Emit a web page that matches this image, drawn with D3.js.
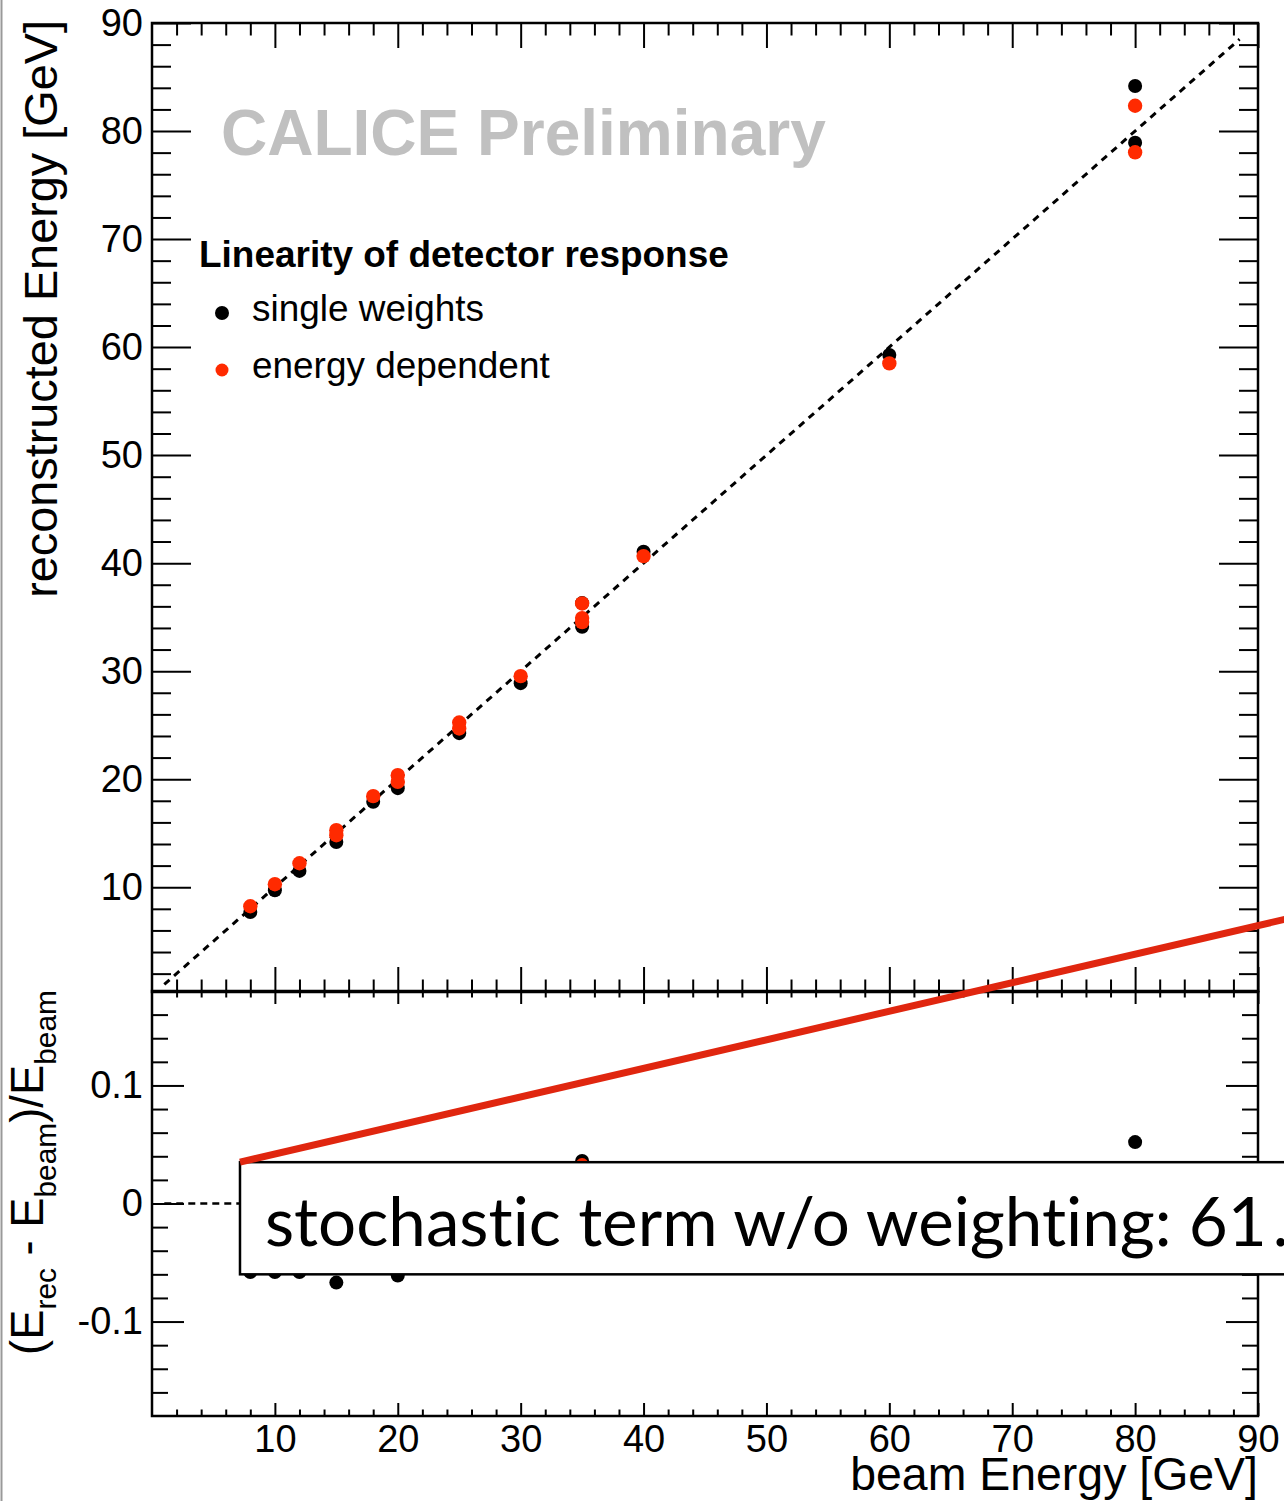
<!DOCTYPE html>
<html>
<head>
<meta charset="utf-8">
<script src="https://cdn.jsdelivr.net/npm/d3@7/dist/d3.min.js"></script>
<style>
    body { margin: 0; background: #fff; }
    svg { display: block; }
</style>
</head>
<body>
<div id="chart"></div>
<script>
// beam energy [GeV] for each run
const singleBeam = [8, 10, 12, 15, 18, 20, 25, 30, 35, 35, 40, 60, 80, 80];
const singleRec  = [7.71, 9.72, 11.51, 14.19, 17.90, 19.17, 24.26, 28.89, 36.3, 34.10, 41.05, 59.26, 84.17, 78.92];
const singleRes  = [-0.058, -0.058, -0.058, -0.067, -0.045, -0.061, -0.04, -0.037, 0.036, -0.026, 0.026, -0.012, 0.052, -0.014];

const edepBeam = [8, 10, 12, 15, 15, 18, 20, 20, 25, 25, 30, 35, 35, 35, 40, 60, 80, 80];
const edepRec  = [8.24, 10.28, 12.22, 15.28, 14.81, 18.43, 20.37, 19.75, 25.25, 24.69, 29.54, 36.27, 34.91, 34.54, 40.65, 58.49, 82.34, 78.03];
const edepRes  = [0.027, 0.028, 0.018, 0.019, -0.013, 0.024, 0.018, -0.012, 0.01, -0.012, -0.015, 0.033, -0.003, -0.013, 0.016, -0.025, 0.029, -0.025];

// reference lines (E_rec = E_beam, residual = 0)
const refX = [1, 88.5];
const refY = [1, 88.5];
const refRes = [0, 0];

// tick labels
const xTicks = [10, 20, 30, 40, 50, 60, 70, 80, 90];
const yTicksTop = [10, 20, 30, 40, 50, 60, 70, 80, 90];
const yTicksRes = [-0.1, 0, 0.1];

// annotation box and pointer line (in residual panel units)
const boxX = [7.16, 96];
const boxY = [0.035, -0.06];
const pointerX = [7.16, 92.5];
const pointerY = [0.035, 0.2415];

const legendLabels = ['single weights', 'energy dependent'];
const annotationText = 'stochastic term w/o weighting: 61';

const RED = '#ff2a00';
const FONT = '"Liberation Sans", Arial, Helvetica, sans-serif';

class LinearityChart {
    constructor(_config) {
        this.config = {
            parentElement: _config.parentElement,
            containerWidth: _config.containerWidth || 1284,
            containerHeight: _config.containerHeight || 1501
        }
        this.InitVis();
    }

    InitVis() {
        let vis = this;

        vis.svg = d3.select(vis.config.parentElement).append('svg')
            .attr('width', vis.config.containerWidth)
            .attr('height', vis.config.containerHeight)
            .style('font-family', FONT);

        vis.x = d3.scaleLinear().domain([0, 90]).range([152, 1258]);
        vis.yTop = d3.scaleLinear().domain([0.3, 90]).range([992, 23]);
        vis.yRes = d3.scaleLinear().domain([-0.18, 0.18]).range([1416, 991]);

        vis.RenderVis();
    }

    DrawTicks(g, axisFn, scale, values, len, withLabels) {
        let axis = axisFn(scale)
            .tickValues(values)
            .tickSizeInner(-len)
            .tickSizeOuter(0)
            .tickPadding(9)
            .tickFormat(withLabels ? (d => String(d)) : '');
        g.call(axis);
        g.select('.domain').remove();
        g.attr('font-family', FONT).attr('font-size', 38);
        g.selectAll('line').attr('stroke', '#000').attr('stroke-width', 2);
        g.selectAll('text').attr('fill', '#000');
    }

    FitText(sel, width) {
        const w = sel.node().getComputedTextLength();
        const fs = parseFloat(sel.attr('font-size'));
        sel.attr('font-size', fs * width / w);
        return fs * width / w;
    }

    RenderVis() {
        let vis = this;
        const x0 = vis.x.range()[0], x1 = vis.x.range()[1];

        // gray page border on the left
        vis.svg.append('line')
            .attr('x1', 1.5).attr('x2', 1.5).attr('y1', 0).attr('y2', vis.config.containerHeight)
            .attr('stroke', '#999').attr('stroke-width', 2);

        const xMinor = d3.range(2, 90, 2).filter(v => v % 10 !== 0);
        const yMinorTop = d3.range(2, 90, 2).filter(v => v % 10 !== 0);
        const yMinorRes = d3.range(-8, 9).filter(i => i % 5 !== 0).map(i => i * 0.02);

        // ---- top panel ticks
        const top = vis.svg.append('g');
        const tTop = vis.yTop.range()[1], tBot = vis.yTop.range()[0];
        vis.DrawTicks(top.append('g').attr('transform', `translate(${x0},0)`), d3.axisLeft, vis.yTop, yTicksTop, 39, true);
        vis.DrawTicks(top.append('g').attr('transform', `translate(${x0},0)`), d3.axisLeft, vis.yTop, yMinorTop, 19, false);
        vis.DrawTicks(top.append('g').attr('transform', `translate(${x1},0)`), d3.axisRight, vis.yTop, yTicksTop, 39, false);
        vis.DrawTicks(top.append('g').attr('transform', `translate(${x1},0)`), d3.axisRight, vis.yTop, yMinorTop, 19, false);
        vis.DrawTicks(top.append('g').attr('transform', `translate(0,${tTop})`), d3.axisTop, vis.x, xTicks, 25, false);
        vis.DrawTicks(top.append('g').attr('transform', `translate(0,${tTop})`), d3.axisTop, vis.x, xMinor, 12.5, false);
        vis.DrawTicks(top.append('g').attr('transform', `translate(0,${tBot})`), d3.axisBottom, vis.x, xTicks, 25, false);
        vis.DrawTicks(top.append('g').attr('transform', `translate(0,${tBot})`), d3.axisBottom, vis.x, xMinor, 12.5, false);
        top.append('rect')
            .attr('x', x0).attr('y', tTop).attr('width', x1 - x0).attr('height', tBot - tTop)
            .attr('fill', 'none').attr('stroke', '#000').attr('stroke-width', 2.5);

        // ---- residual panel ticks
        const bot = vis.svg.append('g');
        const rTop = vis.yRes.range()[1], rBot = vis.yRes.range()[0];
        vis.DrawTicks(bot.append('g').attr('transform', `translate(${x0},0)`), d3.axisLeft, vis.yRes, yTicksRes, 32, true);
        vis.DrawTicks(bot.append('g').attr('transform', `translate(${x0},0)`), d3.axisLeft, vis.yRes, yMinorRes, 16, false);
        vis.DrawTicks(bot.append('g').attr('transform', `translate(${x1},0)`), d3.axisRight, vis.yRes, yTicksRes, 32, false);
        vis.DrawTicks(bot.append('g').attr('transform', `translate(${x1},0)`), d3.axisRight, vis.yRes, yMinorRes, 16, false);
        vis.DrawTicks(bot.append('g').attr('transform', `translate(0,${rTop})`), d3.axisTop, vis.x, xTicks, 13, false);
        vis.DrawTicks(bot.append('g').attr('transform', `translate(0,${rTop})`), d3.axisTop, vis.x, xMinor, 6.5, false);
        vis.DrawTicks(bot.append('g').attr('transform', `translate(0,${rBot})`), d3.axisBottom, vis.x, xTicks, 13, true);
        vis.DrawTicks(bot.append('g').attr('transform', `translate(0,${rBot})`), d3.axisBottom, vis.x, xMinor, 6.5, false);
        bot.append('rect')
            .attr('x', x0).attr('y', rTop).attr('width', x1 - x0).attr('height', rBot - rTop)
            .attr('fill', 'none').attr('stroke', '#000').attr('stroke-width', 2.5);

        // ---- reference lines
        vis.svg.append('path')
            .attr('d', d3.line().x(d => vis.x(d[0])).y(d => vis.yTop(d[1]))(d3.zip(refX, refY)))
            .attr('stroke', '#000').attr('stroke-width', 3).attr('stroke-dasharray', '7,6').attr('fill', 'none');
        vis.svg.append('path')
            .attr('d', d3.line().x(d => vis.x(d[0])).y(d => vis.yRes(d[1]))(d3.zip(refX, refRes)))
            .attr('stroke', '#000').attr('stroke-width', 2.5).attr('stroke-dasharray', '7,5').attr('fill', 'none');

        // ---- points, top panel
        vis.svg.append('g').selectAll('circle')
            .data(d3.zip(singleBeam, singleRec)).join('circle')
            .attr('cx', d => vis.x(d[0])).attr('cy', d => vis.yTop(d[1])).attr('r', 7).attr('fill', '#000');
        vis.svg.append('g').selectAll('circle')
            .data(d3.zip(edepBeam, edepRec)).join('circle')
            .attr('cx', d => vis.x(d[0])).attr('cy', d => vis.yTop(d[1])).attr('r', 7.2).attr('fill', RED);

        // ---- points, residual panel
        vis.svg.append('g').selectAll('circle')
            .data(d3.zip(singleBeam, singleRes)).join('circle')
            .attr('cx', d => vis.x(d[0])).attr('cy', d => vis.yRes(d[1])).attr('r', 7).attr('fill', '#000');
        vis.svg.append('g').selectAll('circle')
            .data(d3.zip(edepBeam, edepRes)).join('circle')
            .attr('cx', d => vis.x(d[0])).attr('cy', d => vis.yRes(d[1])).attr('r', 6.5).attr('fill', RED);

        // ---- axis titles
        const yt = vis.svg.append('text')
            .attr('transform', 'translate(57,20) rotate(-90)')
            .attr('text-anchor', 'end').attr('font-size', 40)
            .text('reconstructed Energy [GeV]');
        vis.FitText(yt, 578);

        const rt = vis.svg.append('text')
            .attr('transform', 'translate(43,990) rotate(-90)')
            .attr('text-anchor', 'end').attr('font-size', 42);
        rt.append('tspan').text('(E');
        rt.append('tspan').attr('font-size', '0.66em').attr('dy', '0.45em').text('rec');
        rt.append('tspan').attr('dy', '-0.3em').text(' - E');
        rt.append('tspan').attr('font-size', '0.66em').attr('dy', '0.45em').text('beam');
        rt.append('tspan').attr('dy', '-0.3em').text(')/E');
        rt.append('tspan').attr('font-size', '0.66em').attr('dy', '0.45em').text('beam');
        vis.FitText(rt, 365);

        const xt = vis.svg.append('text')
            .attr('x', x1).attr('y', 1490)
            .attr('text-anchor', 'end').attr('font-size', 42)
            .text('beam Energy [GeV]');
        vis.FitText(xt, 408);

        // ---- watermark and legend
        const wm = vis.svg.append('text')
            .attr('x', 221).attr('y', 155)
            .attr('font-size', 64).attr('font-weight', 'bold').attr('fill', '#c0c0c0')
            .text('CALICE Preliminary');
        vis.FitText(wm, 605);

        const lt = vis.svg.append('text')
            .attr('x', 199).attr('y', 267)
            .attr('font-size', 37).attr('font-weight', 'bold')
            .text('Linearity of detector response');
        vis.FitText(lt, 530);

        const legend = vis.svg.append('g').selectAll('g')
            .data(legendLabels).join('g')
            .attr('transform', (d, i) => `translate(0,${313 + i * 57})`);
        legend.append('circle')
            .attr('cx', 222).attr('cy', 0).attr('r', (d, i) => i === 0 ? 7 : 6.5)
            .attr('fill', (d, i) => i === 0 ? '#000' : RED);
        const entries = legend.append('text')
            .attr('x', 252).attr('y', 8)
            .attr('font-size', 33)
            .text(d => d);
        const efs = vis.FitText(d3.select(entries.nodes()[0]), 232);
        entries.attr('font-size', efs);

        // ---- annotation box with pointer line
        const bx = vis.x(boxX[0]), by = vis.yRes(boxY[0]);
        vis.svg.append('rect')
            .attr('x', bx).attr('y', by)
            .attr('width', vis.x(boxX[1]) - bx).attr('height', vis.yRes(boxY[1]) - by)
            .attr('fill', '#fff').attr('stroke', '#000').attr('stroke-width', 2.5);
        const at = vis.svg.append('text')
            .attr('x', bx + 25).attr('y', 1246)
            .attr('font-family', 'Lato, "Open Sans", sans-serif')
            .attr('font-size', 68)
            .style('font-variant-ligatures', 'none')
            .style('font-feature-settings', '"liga" 0')
            .text(annotationText);
        vis.FitText(at, 1002);
        at.append('tspan').attr('dx', 6).text('.');

        vis.svg.append('path')
            .attr('d', d3.line().x(d => vis.x(d[0])).y(d => vis.yRes(d[1]))(d3.zip(pointerX, pointerY)))
            .attr('stroke', '#e0260f').attr('stroke-width', 7).attr('fill', 'none');
    }
}

new LinearityChart({ parentElement: '#chart' });
</script>
</body>
</html>
